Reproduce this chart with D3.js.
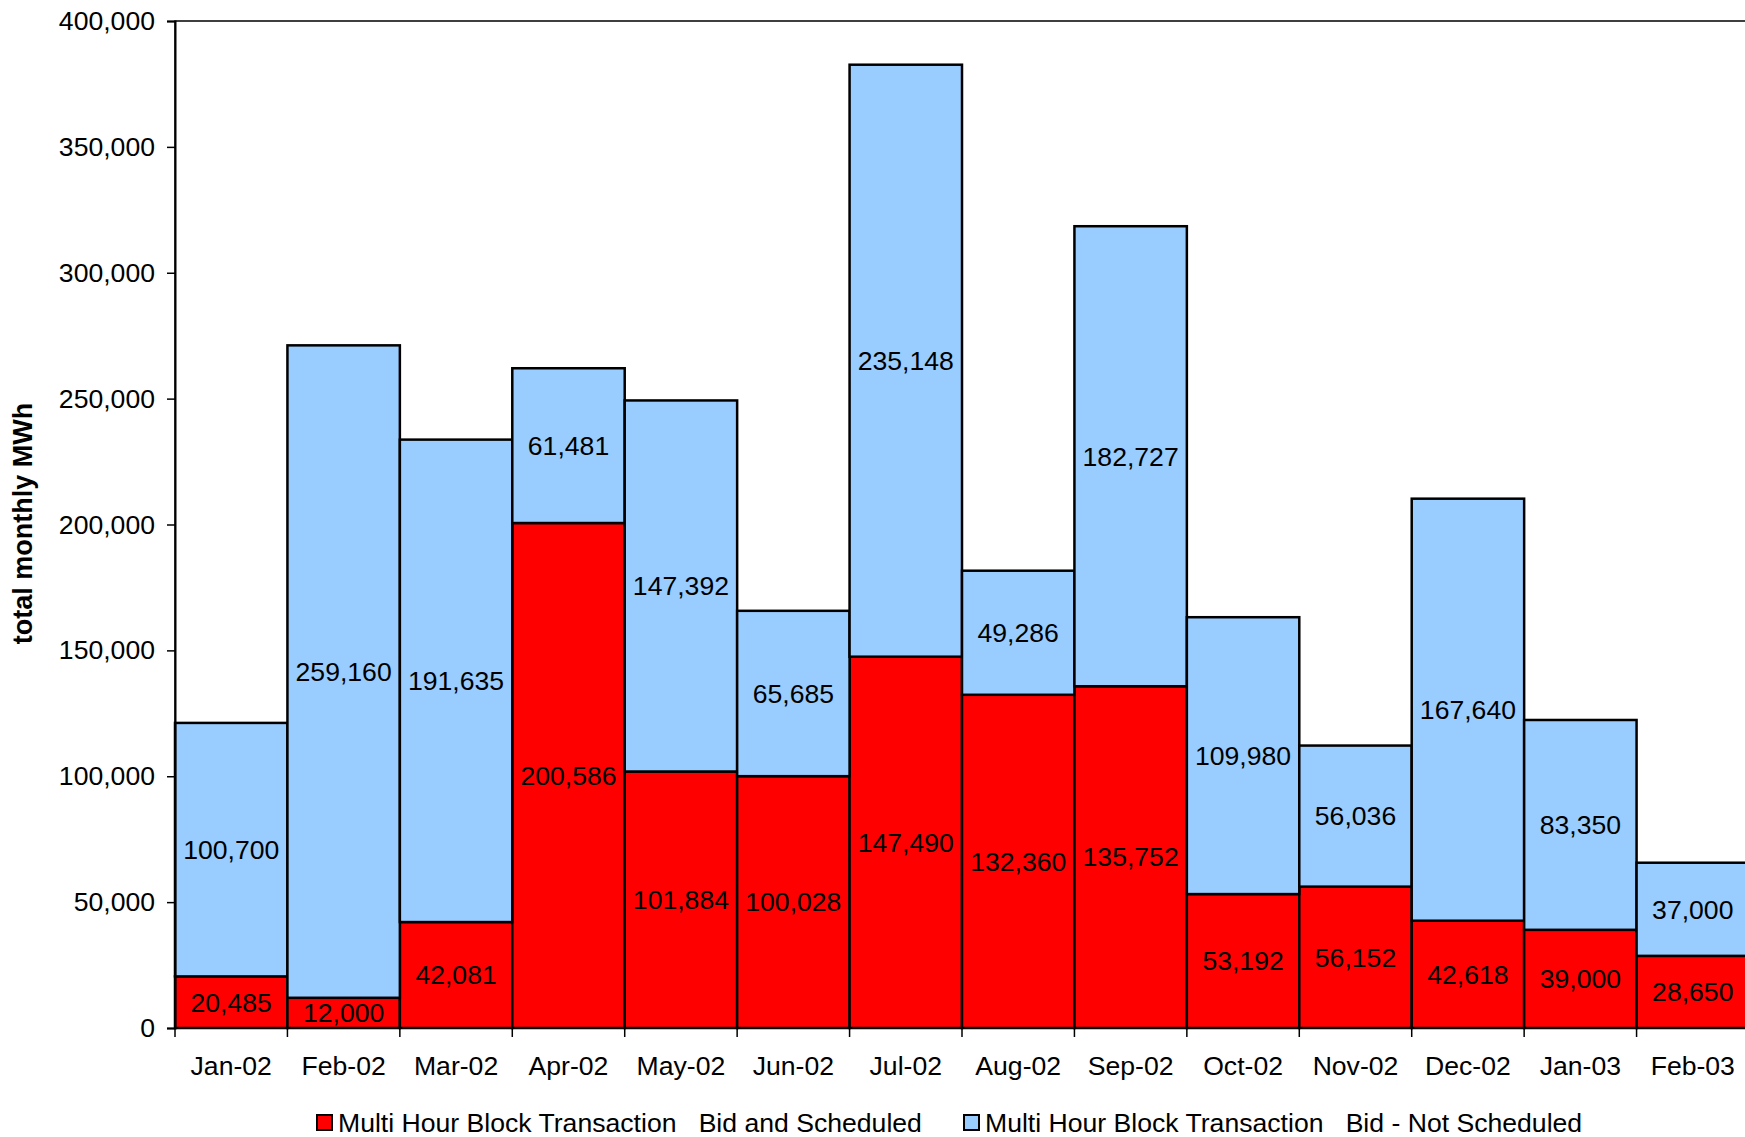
<!DOCTYPE html>
<html>
<head>
<meta charset="utf-8">
<script src="https://cdnjs.cloudflare.com/ajax/libs/d3/7.8.5/d3.min.js"></script>
<style>
  html, body { margin: 0; padding: 0; background: #fff; }
  svg { display: block; font-family: Arial, "Liberation Sans", sans-serif; }
</style>
</head>
<body>
<svg id="chart" width="1745" height="1137"></svg>
<script>
// Monthly multi hour block transactions (MWh)
const months = ["Jan-02","Feb-02","Mar-02","Apr-02","May-02","Jun-02","Jul-02","Aug-02","Sep-02","Oct-02","Nov-02","Dec-02","Jan-03","Feb-03"];
const scheduled = [20485, 12000, 42081, 200586, 101884, 100028, 147490, 132360, 135752, 53192, 56152, 42618, 39000, 28650];
const notScheduled = [100700, 259160, 191635, 61481, 147392, 65685, 235148, 49286, 182727, 109980, 56036, 167640, 83350, 37000];
const yTicks = [0, 50000, 100000, 150000, 200000, 250000, 300000, 350000, 400000];
const seriesNames = ["Multi Hour Block Transaction   Bid and Scheduled", "Multi Hour Block Transaction   Bid - Not Scheduled"];
const seriesColors = ["#FF0000", "#99CCFF"];

const FONT = 26.6;

const svg = d3.select("#chart");
const plot = { left: 175, top: 21, right: 1749, bottom: 1028 };

const x = d3.scaleBand().domain(months).range([plot.left, plot.right]).padding(0);
const y = d3.scaleLinear().domain([0, 400000]).range([plot.bottom, plot.top]);

const rows = months.map((m, i) => ({ month: m, scheduled: scheduled[i], notScheduled: notScheduled[i] }));
const stack = d3.stack().keys(["scheduled", "notScheduled"]);
const layers = stack(rows);

// plot frame
svg.append("rect")
  .attr("x", plot.left).attr("y", plot.top)
  .attr("width", plot.right - plot.left).attr("height", plot.bottom - plot.top)
  .attr("fill", "none").attr("stroke", "#000").attr("stroke-width", 1.5);

// stacked bars
const fmt = d3.format(",");
layers.forEach((layer, li) => {
  const g = svg.append("g");
  g.selectAll("rect").data(layer).enter().append("rect")
    .attr("x", d => x(d.data.month))
    .attr("y", d => y(d[1]))
    .attr("width", x.bandwidth())
    .attr("height", d => y(d[0]) - y(d[1]))
    .attr("fill", seriesColors[li])
    .attr("stroke", "#000")
    .attr("stroke-width", 2.5);
});

// segment value labels
layers.forEach((layer) => {
  svg.append("g").selectAll("text").data(layer).enter().append("text")
    .attr("x", d => x(d.data.month) + x.bandwidth() / 2)
    .attr("y", d => y((d[0] + d[1]) / 2))
    .attr("dy", "0.35em")
    .attr("text-anchor", "middle")
    .attr("font-size", FONT)
    .attr("fill", "#000")
    .text(d => fmt(d[1] - d[0]));
});

// y axis
const yAxis = d3.axisLeft(y).tickValues(yTicks).tickFormat(d3.format(",")).tickSize(8).tickPadding(12);
const yg = svg.append("g").attr("transform", `translate(${plot.left},0)`).call(yAxis);
yg.select(".domain").attr("stroke", "#000").attr("stroke-width", 2);
yg.selectAll(".tick line").attr("stroke", "#000").attr("stroke-width", 1.5);
yg.selectAll(".tick text").attr("font-size", FONT).attr("fill", "#000").attr("font-family", "Arial, 'Liberation Sans', sans-serif");

// x axis with ticks at band boundaries
const xg = svg.append("g").attr("transform", `translate(0,${plot.bottom})`);
xg.append("line").attr("x1", plot.left).attr("x2", plot.right).attr("stroke", "#000").attr("stroke-width", 2);
const bounds = months.map(m => x(m)).concat([x(months[months.length - 1]) + x.bandwidth()]);
xg.selectAll("line.tk").data(bounds).enter().append("line")
  .attr("class", "tk")
  .attr("x1", d => d).attr("x2", d => d)
  .attr("y1", 0).attr("y2", 9)
  .attr("stroke", "#000").attr("stroke-width", 1.5);
xg.selectAll("text").data(months).enter().append("text")
  .attr("x", d => x(d) + x.bandwidth() / 2)
  .attr("y", 38)
  .attr("dy", "0.35em")
  .attr("text-anchor", "middle")
  .attr("font-size", FONT)
  .attr("fill", "#000")
  .text(d => d);

// y axis title
svg.append("text")
  .attr("transform", `translate(23,${(plot.top + plot.bottom) / 2 - 1}) rotate(-90)`)
  .attr("text-anchor", "middle")
  .attr("dy", "0.35em")
  .attr("font-size", 27)
  .attr("font-weight", "bold")
  .attr("fill", "#000")
  .text("total monthly MWh");

// legend
const legendItems = [{ x: 317, name: seriesNames[0], color: seriesColors[0] }, { x: 964, name: seriesNames[1], color: seriesColors[1] }];
const lg = svg.append("g").attr("transform", "translate(0,1123)");
legendItems.forEach(item => {
  lg.append("rect").attr("x", item.x).attr("y", -8).attr("width", 15).attr("height", 15)
    .attr("fill", item.color).attr("stroke", "#000").attr("stroke-width", 2);
  lg.append("text").attr("x", item.x + 21).attr("y", 0).attr("dy", "0.35em")
    .attr("font-size", FONT).attr("fill", "#000")
    .attr("xml:space", "preserve").style("white-space", "pre")
    .text(item.name);
});
</script>
</body>
</html>
